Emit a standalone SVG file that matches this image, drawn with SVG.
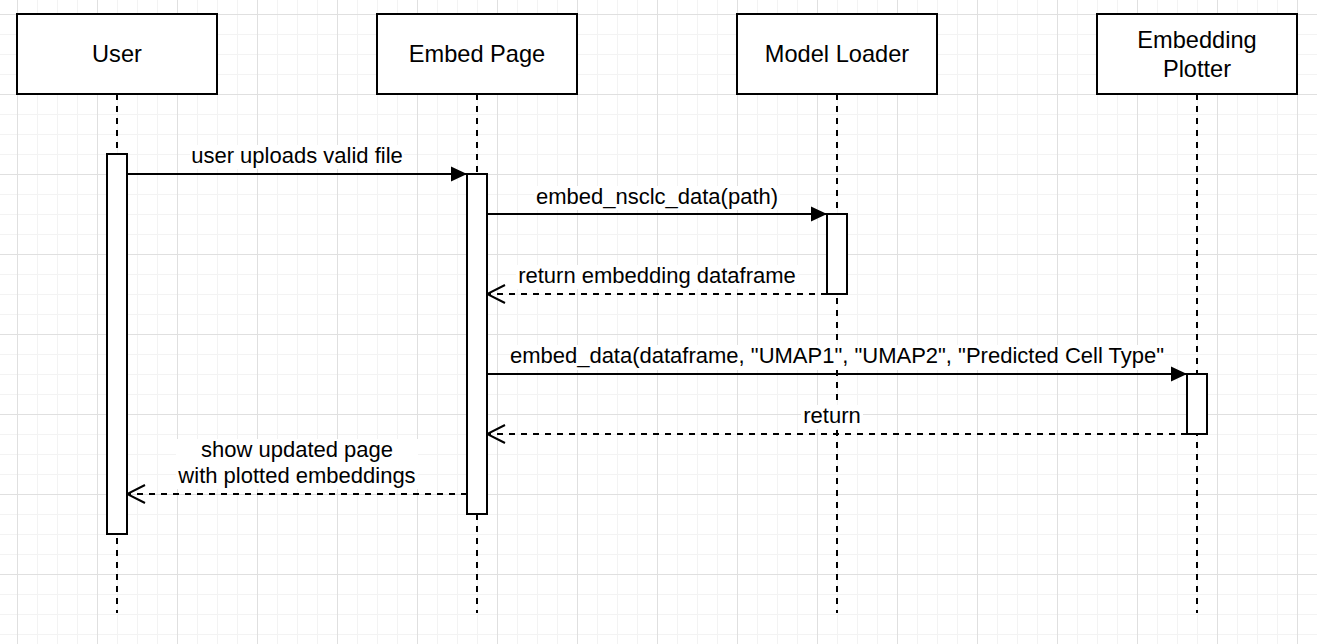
<svg xmlns="http://www.w3.org/2000/svg" width="1317" height="644" viewBox="0 0 1317 644">
<style>
.box{fill:#fff;stroke:#000;stroke-width:2}
.life{stroke:#000;stroke-width:2;stroke-dasharray:6 6;fill:none}
.bar{fill:#fff;stroke:#000;stroke-width:2}
.msg{stroke:#000;stroke-width:2;fill:none}
.ret{stroke:#000;stroke-width:2;fill:none;stroke-dasharray:6 6}
.hd{font-family:"Liberation Sans",Arial,sans-serif;font-size:23.6px;fill:#000;text-anchor:middle}
.lb{font-family:"Liberation Sans",Arial,sans-serif;font-size:22px;fill:#000;text-anchor:middle}
.lbg{fill:#fff}
</style>
<defs>
<pattern id="grid" x="17" y="14" width="80" height="80" patternUnits="userSpaceOnUse">
<rect x="20" y="0" width="1" height="80" fill="#f3f3f3"/>
<rect x="40" y="0" width="1" height="80" fill="#f3f3f3"/>
<rect x="60" y="0" width="1" height="80" fill="#f3f3f3"/>
<rect x="0" y="20" width="80" height="1" fill="#f3f3f3"/>
<rect x="0" y="40" width="80" height="1" fill="#f3f3f3"/>
<rect x="0" y="60" width="80" height="1" fill="#f3f3f3"/>
<rect x="0" y="0" width="1" height="80" fill="#e0e0e0"/>
<rect x="0" y="0" width="80" height="1" fill="#e0e0e0"/>
</pattern>
<marker id="block" viewBox="0 0 16 16" refX="16" refY="8" markerWidth="16" markerHeight="16" markerUnits="userSpaceOnUse" orient="auto">
<path d="M0,0.5 L16,8 L0,15.5 Z" fill="#000"/>
</marker>
<marker id="open" viewBox="0 0 20 20" refX="19" refY="10" markerWidth="20" markerHeight="20" markerUnits="userSpaceOnUse" orient="auto">
<path d="M1,1 L19,10 L1,19" fill="none" stroke="#000" stroke-width="2"/>
</marker>
</defs>
<rect width="1317" height="644" fill="#fff"/>
<rect width="1317" height="644" fill="url(#grid)"/>

<g id="user">
<line class="life" x1="117" y1="94" x2="117" y2="613"/>
<rect class="box" x="17" y="14" width="200" height="80"/>
<text class="hd" x="117" y="62">User</text>
<rect class="bar" x="107" y="154" width="20" height="380"/>
</g>
<g id="embed-page">
<line class="life" x1="477" y1="94" x2="477" y2="613"/>
<rect class="box" x="377" y="14" width="200" height="80"/>
<text class="hd" x="477" y="62">Embed Page</text>
<rect class="bar" x="467" y="174" width="20" height="340"/>
</g>
<g id="model-loader">
<line class="life" x1="837" y1="94" x2="837" y2="613"/>
<rect class="box" x="737" y="14" width="200" height="80"/>
<text class="hd" x="837" y="62">Model Loader</text>
<rect class="bar" x="827" y="214" width="20" height="80"/>
</g>
<g id="embedding-plotter">
<line class="life" x1="1197" y1="94" x2="1197" y2="613"/>
<rect class="box" x="1097" y="14" width="200" height="80"/>
<text class="hd" x="1197" y="48">Embedding</text>
<text class="hd" x="1197" y="77">Plotter</text>
<rect class="bar" x="1187" y="374" width="20" height="60"/>
</g>

<g id="connectors">
<line class="msg" x1="127" y1="174" x2="467" y2="174" marker-end="url(#block)"/>
<rect class="lbg" x="190" y="145" width="214" height="24"/>
<text class="lb" x="297" y="163">user uploads valid file</text>

<line class="msg" x1="487" y1="214" x2="827" y2="214" marker-end="url(#block)"/>
<rect class="lbg" x="534" y="186" width="246" height="24"/>
<text class="lb" x="657" y="204">embed_nsclc_data(path)</text>

<line class="ret" x1="827" y1="294" x2="487" y2="294" marker-end="url(#open)"/>
<rect class="lbg" x="516" y="265" width="282" height="24"/>
<text class="lb" x="657" y="283">return embedding dataframe</text>

<line class="msg" x1="487" y1="374" x2="1187" y2="374" marker-end="url(#block)"/>
<rect class="lbg" x="510" y="345" width="654" height="25"/>
<text class="lb" x="837" y="363">embed_data(dataframe, "UMAP1", "UMAP2", "Predicted Cell Type"</text>

<line class="ret" x1="1187" y1="434" x2="487" y2="434" marker-end="url(#open)"/>
<rect class="lbg" x="801" y="405" width="62" height="24"/>
<text class="lb" x="832" y="423">return</text>

<line class="ret" x1="467" y1="494" x2="127" y2="494" marker-end="url(#open)"/>
<rect class="lbg" x="176" y="439" width="242" height="50"/>
<text class="lb" x="297" y="457">show updated page</text>
<text class="lb" x="297" y="483">with plotted embeddings</text>
</g>
</svg>
